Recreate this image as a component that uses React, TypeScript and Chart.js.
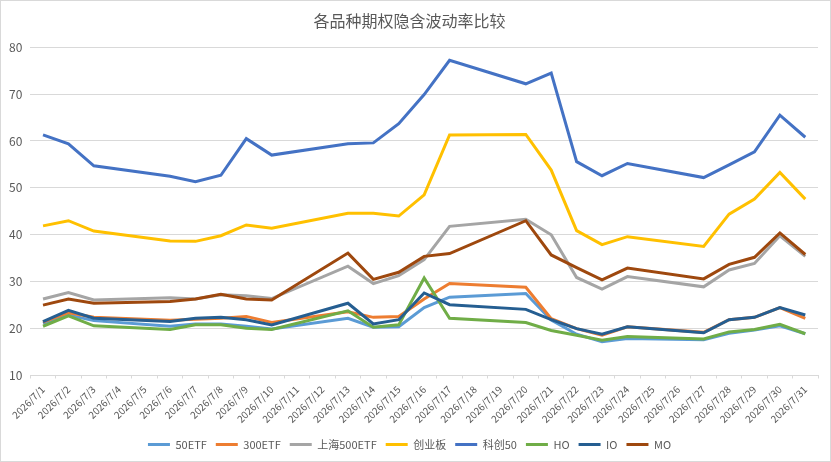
import React, { useEffect, useRef } from 'react';
import Chart from 'chart.js/auto';

// 2026/7/1 .. 2026/7/31, weekends have no quotes (null, line spans the gap)
const dates = Array.from({ length: 31 }, (_, i) => `2026/7/${i + 1}`);

const etf50 = [21.1, 22.9, 21.7, null, null, 20.5, 21.0, 21.0, 20.5, 19.9, null, null, 22.2, 20.3, 20.4, 24.5, 26.7, null, null, 27.5, 21.8, 18.8, 17.2, 17.9, null, null, 17.6, 19.0, 19.7, 20.6, 18.9];
const etf300 = [21.4, 23.4, 22.4, null, null, 21.8, 22.0, 22.2, 22.6, 21.3, null, null, 23.6, 22.4, 22.6, 26.3, 29.6, null, null, 28.8, 22.1, 20.0, 18.6, 20.4, null, null, 19.2, 21.9, 22.4, 24.5, 22.2];
const sh500 = [26.3, 27.7, 26.1, null, null, 26.6, 26.3, 27.2, 27.0, 26.4, null, null, 33.3, 29.6, 31.3, 34.7, 41.8, null, null, 43.3, 40.0, 30.9, 28.4, 31.1, null, null, 28.9, 32.5, 33.9, 39.8, 35.4];
const chinext = [41.9, 43.0, 40.8, null, null, 38.7, 38.6, 39.8, 42.1, 41.4, null, null, 44.6, 44.6, 44.0, 48.5, 61.3, null, null, 61.4, 53.8, 40.9, 37.9, 39.6, null, null, 37.5, 44.4, 47.6, 53.3, 47.6];
const star50 = [61.3, 59.4, 54.7, null, null, 52.5, 51.3, 52.7, 60.5, 57.0, null, null, 59.4, 59.6, 63.7, 69.9, 77.2, null, null, 72.2, 74.5, 55.6, 52.6, 55.2, null, null, 52.2, 54.9, 57.7, 65.5, 60.8];
const ho = [20.5, 22.7, 20.6, null, null, 19.8, 20.8, 20.8, 20.1, 19.8, null, null, 23.8, 20.3, 20.8, 30.8, 22.2, null, null, 21.3, 19.6, 18.6, 17.5, 18.3, null, null, 17.8, 19.3, 19.8, 20.9, 18.9];
const io = [21.5, 23.9, 22.2, null, null, 21.5, 22.2, 22.4, 21.9, 20.8, null, null, 25.4, 21.0, 21.9, 27.6, 25.1, null, null, 24.1, 21.9, 20.0, 18.8, 20.4, null, null, 19.1, 21.9, 22.4, 24.5, 22.9];
const mo = [25.0, 26.3, 25.4, null, null, 25.8, 26.3, 27.3, 26.3, 26.1, null, null, 36.1, 30.5, 32.0, 35.4, 36.0, null, null, 43.0, 35.7, 33.0, 30.4, 32.9, null, null, 30.6, 33.7, 35.2, 40.4, 35.8];

const seriesNames = ['50ETF', '300ETF', '上海500ETF', '创业板', '科创50', 'HO', 'IO', 'MO'];
const seriesValues = [etf50, etf300, sh500, chinext, star50, ho, io, mo];
const seriesColors = ['#5B9BD5', '#ED7D31', '#A5A5A5', '#FFC000', '#4472C4', '#70AD47', '#255E91', '#9E480E'];

const FONT = '"Noto Sans CJK SC", "Noto Sans", sans-serif';
const TEXT = '#595959';
const GRID = '#D9D9D9';

const App: React.FC = () => {
  const canvasRef = useRef<HTMLCanvasElement | null>(null);

  useEffect(() => {
    document.body.style.margin = '0';
    if (!canvasRef.current) return;

    const chart = new Chart(canvasRef.current, {
      type: 'line',
      data: {
        labels: dates,
        datasets: seriesNames.map((name, i) => ({
          label: name,
          data: seriesValues[i],
          borderColor: seriesColors[i],
          backgroundColor: seriesColors[i],
          borderWidth: 3,
          pointRadius: 0,
          pointHoverRadius: 0,
          tension: 0,
          spanGaps: true,
          // later series on top, like the spreadsheet
          order: seriesNames.length - i,
        })),
      },
      options: {
        animation: false,
        responsive: true,
        maintainAspectRatio: false,
        layout: { padding: { left: 0, right: 12, top: 6, bottom: 1 } },
        plugins: {
          title: {
            display: true,
            text: '各品种期权隐含波动率比较',
            color: TEXT,
            font: { family: FONT, size: 16, weight: 'normal' },
            padding: { top: 4, bottom: 17 },
          },
          legend: {
            position: 'bottom',
            labels: {
              color: TEXT,
              font: { family: FONT, size: 11 },
              usePointStyle: true,
              pointStyle: 'line',
              pointStyleWidth: 22,
              padding: 9,
              sort: (a, b) => (a.datasetIndex ?? 0) - (b.datasetIndex ?? 0),
            },
          },
          tooltip: { enabled: false },
        },
        scales: {
          x: {
            offset: true,
            grid: {
              display: true,
              offset: true,
              drawOnChartArea: false,
              drawTicks: true,
              tickLength: 3,
              color: GRID,
            },
            border: { display: true, color: GRID },
            ticks: {
              color: TEXT,
              font: { family: FONT, size: 10 },
              autoSkip: false,
              maxRotation: 45,
              minRotation: 45,
              padding: 5,
            },
            // rotated labels may hang outside the plot; don't let them push it in
            afterFit: (scale: any) => {
              scale.paddingLeft = 0;
              scale.paddingRight = 0;
            },
          },
          y: {
            min: 10,
            max: 80,
            grid: { color: GRID, lineWidth: 1, drawTicks: false },
            border: { display: false },
            ticks: {
              stepSize: 10,
              color: TEXT,
              font: { family: FONT, size: 12 },
              padding: 8,
            },
          },
        },
      },
    });

    return () => {
      chart.destroy();
    };
  }, []);

  return (
    <div
      style={{
        position: 'relative',
        width: 831,
        height: 462,
        boxSizing: 'border-box',
        border: `1px solid ${GRID}`,
        background: '#fff',
      }}
    >
      <canvas ref={canvasRef} />
    </div>
  );
};

export default App;
